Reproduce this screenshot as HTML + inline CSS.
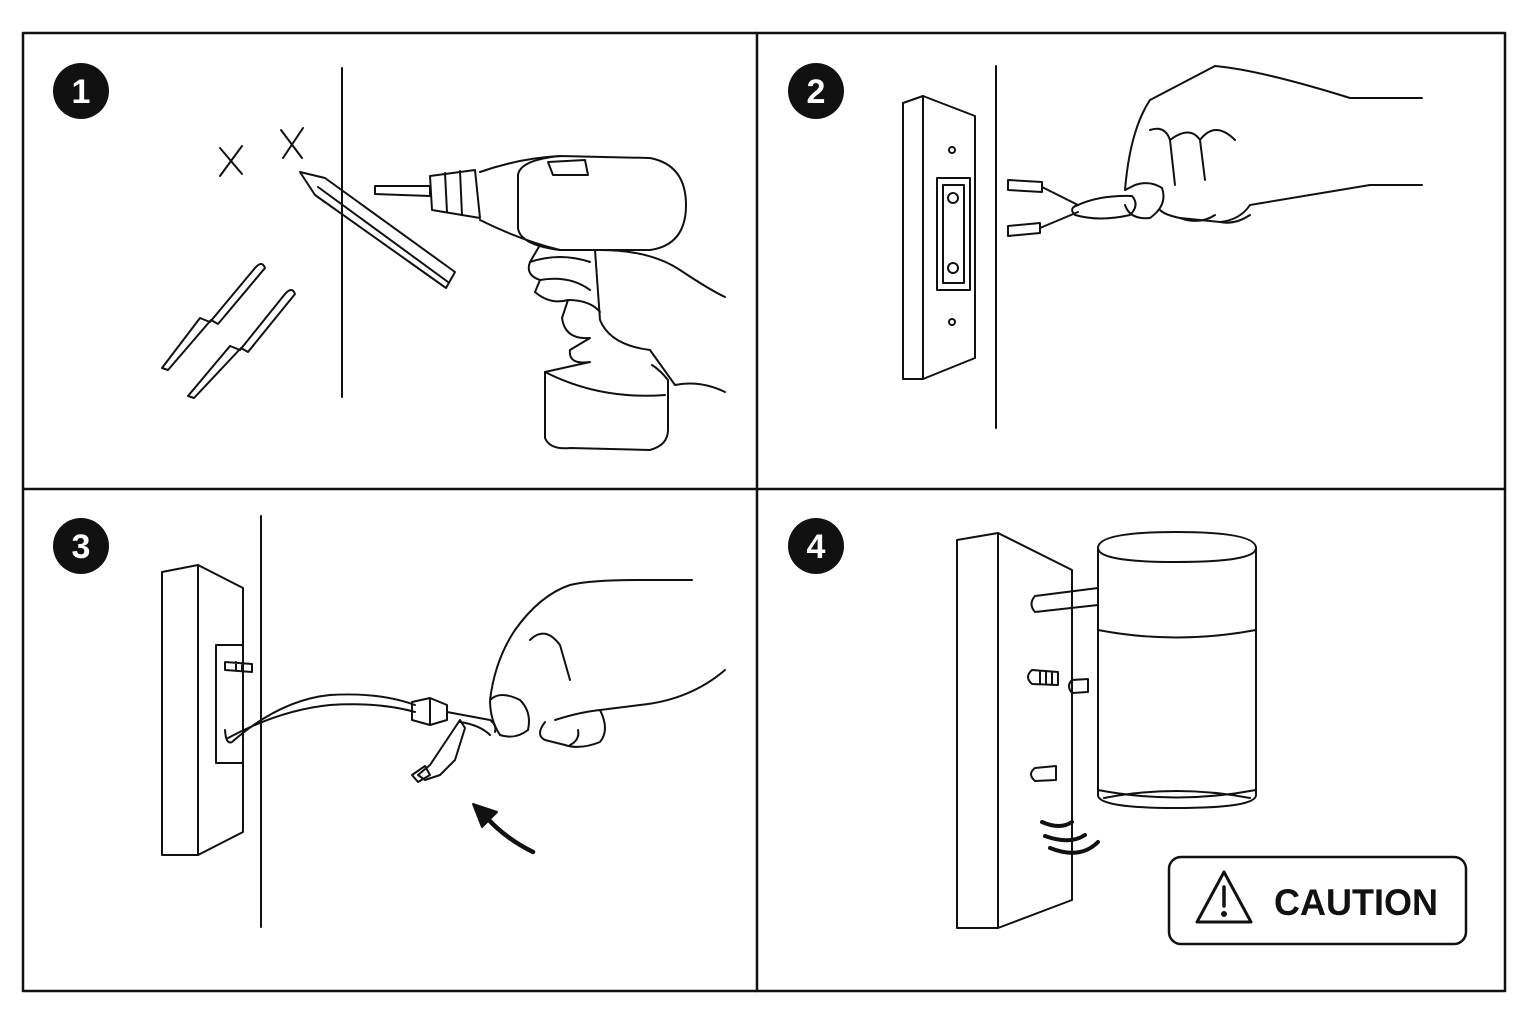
<!DOCTYPE html>
<html><head><meta charset="utf-8"><style>
html,body{margin:0;padding:0;background:#fff;}
svg{display:block}
text{font-family:"Liberation Sans",sans-serif}
</style></head><body>
<svg width="1536" height="1024" viewBox="0 0 1536 1024" xmlns="http://www.w3.org/2000/svg">
<g fill="none" stroke="#111" stroke-width="2" stroke-linejoin="round" stroke-linecap="round">
<rect x="23" y="33" width="1482" height="958" stroke-width="2.5"/>
<line x1="757" y1="33" x2="757" y2="991" stroke-width="2.5"/>
<line x1="23" y1="489" x2="1505" y2="489" stroke-width="2.5"/>

<!-- Panel 1 -->
<line x1="342" y1="68" x2="342" y2="397"/>
<path d="M220 148 L242 174 M242 146 L220 176"/>
<path d="M281 130 L302 158 M303 128 L283 158"/>
<path d="M300 172 L325 178 L455 272 L446 288 L315 195 Z"/>
<path d="M318 187 L448 282"/>
<path d="M162 368 L200 318 L210 322 L255 268 Q262 260 265 268 L218 324 L211 320 L168 370 Z"/>
<path d="M188 396 L230 346 L240 350 L285 294 Q292 286 295 294 L248 352 L241 348 L194 398 Z"/>
<path d="M375 186 L430 186 L430 196 L375 194 Z"/>
<path d="M430 176 L475 170 L480 218 L432 210 Z"/>
<path d="M445 173 L447 212 M460 171 L462 215"/>
<path d="M480 172 Q520 158 560 156 L650 158 Q686 165 686 205 Q686 245 650 250 L560 250 Q520 240 480 220"/>
<path d="M518 175 Q520 160 560 156 M518 175 L518 228 Q520 245 560 250"/>
<path d="M548 162 L585 160 L588 175 L553 175 Z"/>
<path d="M540 245 L530 262 Q525 275 540 280 L535 292 Q550 305 568 300 L562 318 Q565 340 590 338 L570 350 Q568 365 590 362 L545 372 L545 438 Q550 450 570 448 L650 450 Q668 445 668 430 L668 380 Q660 370 652 365"/>
<path d="M545 372 Q600 400 665 395"/>
<path d="M600 250 Q650 250 680 270 Q710 290 725 297"/>
<path d="M595 250 L600 320 Q610 345 650 350 L675 385 Q700 380 725 392"/>
<path d="M530 262 Q560 252 590 262 M540 280 Q570 275 590 290 M568 300 Q590 300 600 312"/>

<!-- Panel 2 -->
<line x1="996" y1="66" x2="996" y2="428"/>
<path d="M903 103 L923 96 L975 116 L975 358 L923 379 L903 379 Z"/>
<path d="M923 96 L923 379"/>
<rect x="937" y="178" width="33" height="112"/>
<rect x="943" y="185" width="21" height="98"/>
<circle cx="952" cy="150" r="3"/><circle cx="952" cy="322" r="3"/>
<circle cx="953" cy="198" r="5"/><circle cx="953" cy="268" r="5"/>
<path d="M1008 180 L1042 182 L1042 192 L1008 190 Z M1008 226 L1040 223 L1040 233 L1008 236 Z"/>
<path d="M1042 187 L1078 205 M1040 228 L1078 212"/>
<path d="M1078 205 Q1100 195 1132 196 Q1140 205 1130 215 Q1100 222 1075 215 Q1068 208 1078 205"/>
<path d="M1422 98 L1350 98 Q1260 70 1215 66 L1150 100 Q1130 130 1125 190 L1135 185 Q1150 180 1162 188 Q1168 205 1150 218 Q1130 220 1125 205"/>
<path d="M1422 185 L1370 185 Q1310 195 1250 205 Q1240 220 1220 222 L1180 218 Q1165 215 1160 210"/>
<path d="M1180 218 Q1200 225 1215 215 M1220 222 Q1235 225 1250 215"/>
<path d="M1150 130 Q1165 125 1170 140 Q1190 125 1200 140 Q1215 120 1235 140"/>
<path d="M1170 140 L1175 185 M1200 140 L1205 180"/>

<!-- Panel 3 -->
<line x1="261" y1="516" x2="261" y2="927"/>
<path d="M162 572 L198 565 L243 588 L243 832 L198 855 L162 855 Z"/>
<path d="M198 565 L198 855"/>
<rect x="216" y="645" width="27" height="118"/>
<path d="M225 662 L252 664 L252 672 L225 670 Z M236 662 L236 670 M242 663 L242 671"/>
<path d="M225 730 Q226 745 232 742 Q280 700 330 695 Q380 692 415 705"/>
<path d="M228 738 Q280 710 330 705 Q380 702 415 712"/>
<path d="M412 702 L430 698 L447 705 L447 720 L430 725 L412 720 Z M430 698 L430 725"/>
<path d="M447 712 L490 720 Q497 725 495 732"/>
<path d="M418 775 L430 765 L440 750 L460 720 L465 728 L455 760 L440 775 L425 780 Z"/>
<path d="M412 775 L425 766 L430 775 L418 782 Z"/>
<path d="M460 722 Q480 725 490 735"/>
<path d="M692 580 L640 580 Q590 580 570 585 Q540 595 515 630 Q495 660 490 700 Q500 690 520 700 Q532 712 528 730 Q515 740 500 735 Q490 720 490 700"/>
<path d="M725 670 Q690 700 640 705 L600 710 Q610 730 600 742 Q580 750 565 745 L545 740 Q535 735 545 722"/>
<path d="M555 720 Q580 712 600 710 M570 745 Q580 740 578 730"/>
<path d="M530 640 Q545 625 560 645 M560 645 L570 680"/>
<path d="M533 852 Q505 838 487 818" stroke-width="4.5"/>
<path d="M473 804 L497 812 L482 827 Z" fill="#111"/>

<!-- Panel 4 -->
<path d="M957 540 L998 533 L1072 570 L1072 900 L998 928 L957 928 Z"/>
<path d="M998 533 L998 928"/>
<path d="M1035 596 L1098 588 L1098 605 L1035 612 Q1028 604 1035 596 Z"/>
<path d="M1098 548 Q1098 532 1176 532 Q1256 532 1256 548 L1256 795 Q1256 808 1176 808 Q1098 808 1098 795 Z"/>
<path d="M1098 548 Q1098 562 1176 562 Q1256 562 1256 548"/>
<path d="M1098 630 Q1176 645 1256 630"/>
<path d="M1098 790 Q1176 805 1256 790 M1104 798 Q1176 784 1250 798"/>
<path d="M1032 670 L1058 672 L1058 685 L1032 684 Q1024 677 1032 670 Z M1040 671 L1040 684 M1046 671 L1046 684 M1052 672 L1052 685"/>
<path d="M1072 680 L1088 679 L1088 692 L1072 693 Q1066 686 1072 680 Z"/>
<path d="M1035 768 L1056 766 L1056 780 L1035 781 Q1027 774 1035 768 Z"/>
<path d="M1045 836 Q1070 845 1085 835 M1050 848 Q1080 860 1098 842 M1042 822 Q1060 830 1072 822" stroke-width="4"/>
<rect x="1169" y="857" width="297" height="87" rx="12" ry="12" stroke-width="2.5"/>
<path d="M1224 872 L1251 922 L1197 922 Z" stroke-width="3"/>
<line x1="1224" y1="887" x2="1224" y2="906" stroke-width="3.5"/>
<circle cx="1224" cy="914" r="2" fill="#111"/>
</g>
<g fill="#111">
<circle cx="81" cy="91" r="28"/><circle cx="816" cy="91" r="28"/>
<circle cx="81" cy="546" r="28"/><circle cx="816" cy="546" r="28"/>
</g>
<g fill="#fff" font-size="34" font-weight="bold" text-anchor="middle">
<text x="81" y="103">1</text><text x="816" y="103">2</text>
<text x="81" y="558">3</text><text x="816" y="558">4</text>
</g>
<text x="1274" y="915" font-size="37" font-weight="bold" fill="#111" textLength="164" lengthAdjust="spacingAndGlyphs">CAUTION</text>
</svg>
</body></html>
